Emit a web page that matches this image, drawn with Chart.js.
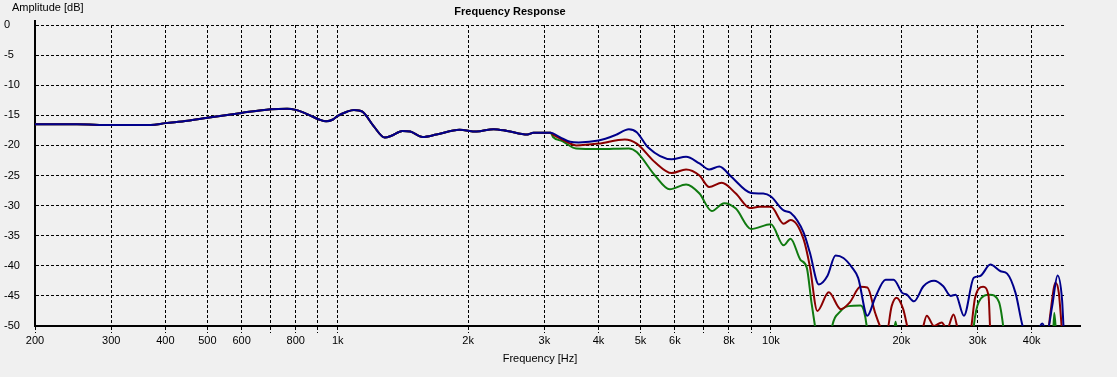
<!DOCTYPE html>
<html>
<head>
<meta charset="utf-8">
<script src="https://cdn.jsdelivr.net/npm/chart.js@4"></script>
<style>
    html, body { margin: 0; padding: 0; background: #f0f0f0; }
    canvas { display: block; }
</style>
</head>
<body>
<canvas id="chart" width="1117" height="377"></canvas>
<script>
"use strict";

// shared part of the response (all three curves overlap up to ~3 kHz)
var commonFreq = [200, 250, 300, 370, 400, 450, 500, 600, 700, 764, 800, 850, 906, 940, 975, 1000, 1050, 1090, 1140, 1210, 1284, 1330, 1410, 1470, 1570, 1690, 1910, 2090, 2290, 2460, 2740, 2830, 3100];
var commonDb = [-16.5, -16.5, -16.6, -16.6, -16.3, -15.9, -15.4, -14.6, -14.0, -13.9, -14.1, -14.8, -15.7, -16.0, -15.7, -15.1, -14.4, -14.1, -14.4, -16.8, -18.7, -18.4, -17.6, -17.7, -18.6, -18.2, -17.4, -17.7, -17.3, -17.6, -18.2, -17.9, -17.9];

var blueFreq = [3140, 3270, 3440, 3600, 4000, 4370, 4700, 4900, 5200, 5900, 6370, 6840, 7200, 7600, 8100, 9000, 9600, 10000, 10700, 11100, 11900, 12300, 12900, 13500, 14100, 14700, 15400, 15900, 16700, 17400, 18400, 19200, 20100, 20600, 21400, 22500, 23800, 25000, 26000, 26700, 27900, 29400, 30400, 32100, 33900, 35100, 36700, 38300, 40500, 42300, 43400, 44600, 45900, 47000, 47400, 48000];
var blueDb = [-18.0, -18.7, -19.4, -19.5, -19.2, -18.3, -17.3, -17.8, -20.3, -22.3, -21.9, -23.0, -24.0, -23.5, -25.2, -27.9, -28.0, -28.5, -30.8, -31.2, -34.5, -37.8, -43.1, -41.7, -38.3, -38.7, -40.3, -42.0, -48.3, -45.3, -42.3, -42.3, -44.5, -44.8, -45.9, -43.4, -42.5, -43.4, -45.0, -44.8, -48.3, -42.0, -41.7, -39.8, -40.9, -41.3, -44.5, -50.5, -52.0, -49.6, -51.0, -46.7, -41.6, -45.6, -50.5, -56.0];

var redFreq = [3140, 3270, 3440, 3550, 4000, 4600, 4900, 5400, 5900, 6370, 6840, 7200, 7700, 8300, 8950, 9400, 10000, 10700, 11100, 11900, 12300, 12800, 13600, 14500, 15200, 16100, 16700, 17400, 18000, 18500, 19000, 19500, 20200, 20800, 21500, 22300, 22900, 23800, 24800, 25500, 26400, 27100, 28000, 28900, 29600, 30900, 31800, 32100, 32800, 43000, 43700, 44200, 45400, 46200, 47000, 47600];
var redDb = [-18.2, -18.9, -19.7, -20.0, -19.7, -19.0, -19.7, -22.8, -24.6, -24.0, -25.0, -26.9, -26.2, -28.0, -30.4, -30.2, -30.2, -33.0, -32.4, -35.6, -40.1, -47.5, -44.4, -47.2, -46.1, -43.5, -43.6, -47.8, -50.5, -51.0, -46.7, -45.3, -47.2, -51.0, -53.0, -51.0, -48.3, -50.0, -49.4, -50.5, -48.1, -51.0, -53.0, -51.0, -45.3, -43.5, -45.0, -51.0, -56.0, -56.0, -51.0, -47.8, -42.8, -44.5, -51.0, -56.0];

var greenFreq = [3140, 3300, 3550, 4000, 4700, 4900, 5400, 5840, 6370, 6840, 7300, 7800, 8300, 9000, 10000, 10700, 11100, 11700, 12100, 12400, 12700, 13100, 13500, 13800, 14500, 15100, 16100, 16400, 16700, 17000, 19000, 19400, 19700, 20300, 28800, 29400, 30200, 32000, 33600, 34500, 35200, 44400, 44800, 45100, 45500, 46000];
var greenDb = [-18.6, -19.3, -20.5, -20.6, -20.5, -21.1, -25.0, -27.3, -26.5, -28.0, -30.9, -29.6, -30.5, -33.9, -33.1, -36.6, -35.5, -39.0, -40.3, -46.0, -51.0, -58.0, -56.0, -50.5, -47.5, -46.7, -46.6, -47.5, -51.0, -58.0, -54.0, -49.3, -53.0, -58.0, -58.0, -50.0, -46.0, -44.8, -46.0, -51.0, -58.0, -58.0, -52.0, -47.8, -51.0, -58.0];

var xTicks = [200, 300, 400, 500, 600, 700, 800, 900, 1000, 2000, 3000, 4000, 5000, 6000, 7000, 8000, 9000, 10000, 20000, 30000, 40000];
var xTickLabels = ["200", "300", "400", "500", "600", "", "800", "", "1k", "2k", "3k", "4k", "5k", "6k", "", "8k", "", "10k", "20k", "30k", "40k"];
var yTicks = [0, -5, -10, -15, -20, -25, -30, -35, -40, -45, -50];

function toPoints(freqs, vals) {
    return freqs.map(function (f, i) {
        return { x: f, y: vals[i] };
    });
}

function curve(freqs, vals, color) {
    return {
        data: toPoints(commonFreq.concat(freqs), commonDb.concat(vals)),
        borderColor: color,
        borderWidth: 2,
        pointRadius: 0,
        fill: false,
        cubicInterpolationMode: "monotone"
    };
}

// titles and the small axis overhangs of the original plot
var decorations = {
    id: "decorations",
    afterDraw: function (chart) {
        var ctx = chart.ctx;
        var area = chart.chartArea;
        ctx.save();
        ctx.strokeStyle = "#000";
        ctx.lineWidth = 2;
        ctx.beginPath();
        ctx.moveTo(area.left, area.top - 5);
        ctx.lineTo(area.left, area.top);
        ctx.moveTo(area.right, area.bottom);
        ctx.lineTo(area.right + 15, area.bottom);
        ctx.stroke();

        ctx.fillStyle = "#000";
        ctx.textBaseline = "middle";
        ctx.font = "bold 11px 'Liberation Sans', Arial, sans-serif";
        ctx.textAlign = "center";
        ctx.fillText("Frequency Response", 510, 12);
        ctx.font = "11px 'Liberation Sans', Arial, sans-serif";
        ctx.textAlign = "left";
        ctx.fillText("Amplitude [dB]", 12, 8);
        ctx.textAlign = "center";
        ctx.fillText("Frequency [Hz]", 540, 359);
        ctx.restore();
    }
};

Chart.defaults.font.family = "'Liberation Sans', Arial, sans-serif";
Chart.defaults.font.size = 11;
Chart.defaults.color = "#000";

// the first dataset is painted last, so blue sits on top like in the original
new Chart(document.getElementById("chart"), {
    type: "line",
    data: {
        datasets: [
            curve(blueFreq, blueDb, "#00008b"),
            curve(redFreq, redDb, "#8b0000"),
            curve(greenFreq, greenDb, "#107a10")
        ]
    },
    options: {
        responsive: false,
        animation: false,
        layout: {
            padding: { left: 4, top: 25, right: 51, bottom: 0 }
        },
        plugins: {
            legend: { display: false },
            tooltip: { enabled: false }
        },
        scales: {
            x: {
                type: "logarithmic",
                min: 200,
                max: 48000,
                afterBuildTicks: function (scale) {
                    scale.ticks = xTicks.map(function (v) {
                        return { value: v };
                    });
                },
                afterFit: function (scale) {
                    scale.height = 51;
                },
                ticks: {
                    autoSkip: false,
                    maxRotation: 0,
                    minRotation: 0,
                    padding: 1,
                    callback: function (value, index) {
                        return xTickLabels[index];
                    }
                },
                grid: {
                    color: "#000",
                    lineWidth: 1,
                    tickLength: 7,
                    tickColor: "#000",
                    tickBorderDash: [3, 2]
                },
                border: {
                    color: "#000",
                    width: 2,
                    dash: [3, 2]
                }
            },
            y: {
                min: -50,
                max: 0,
                afterBuildTicks: function (scale) {
                    scale.ticks = yTicks.map(function (v) {
                        return { value: v };
                    });
                },
                afterFit: function (scale) {
                    scale.width = 31;
                },
                ticks: {
                    crossAlign: "far",
                    padding: 0,
                    callback: function (value) {
                        return String(value);
                    }
                },
                grid: {
                    color: "#000",
                    lineWidth: 1,
                    drawTicks: false
                },
                border: {
                    color: "#000",
                    width: 2,
                    dash: [3, 2]
                }
            }
        }
    },
    plugins: [decorations]
});
</script>
</body>
</html>
